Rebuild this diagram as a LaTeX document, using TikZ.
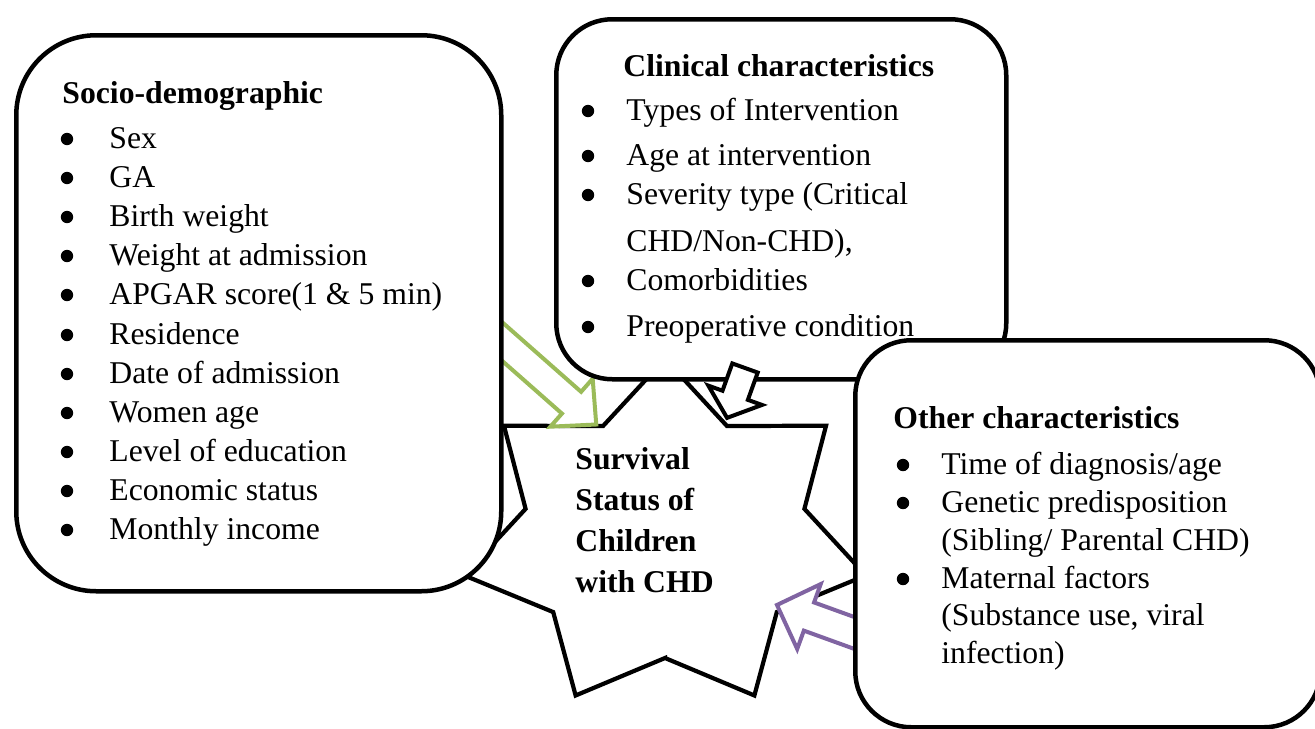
\documentclass[tikz,border=0pt]{standalone}
\usepackage{fontspec}
\setmainfont{Liberation Serif}

\definecolor{olivegreen}{HTML}{9BBB59}
\definecolor{lilac}{HTML}{8064A2}

\tikzset{
  pics/blockarrow/.style n args={4}{code={
    \draw[fill=white] (0,-#2) -- ({#1-#4},-#2) -- ({#1-#4},-#3) -- (#1,0)
      -- ({#1-#4},#3) -- ({#1-#4},#2) -- (0,#2) -- cycle;
  }}
}

\begin{document}
\begin{tikzpicture}[x=0.5pt,y=-0.5pt,
                    font=\fontsize{15.85}{19}\selectfont,
                    box/.style={draw,line width=2.25pt,fill=white,inner sep=0pt,anchor=north west},
                    item/.style={anchor=base west,inner sep=0pt},
                    dot/.style={circle,fill,inner sep=0pt,minimum size=6.2pt},
                    head/.style={item,font=\fontsize{15.85}{19}\selectfont\bfseries},
                    arr/.style={line width=2pt,line join=miter}]

\useasboundingbox (0,0) rectangle (1315,728);

\draw[line width=2.1pt,fill=white] (665,658)
    \foreach \k in {0,...,6} {
        -- ({665+206*sin(\k*51.4286+25.7143)},{536+177*cos(\k*51.4286+25.7143)})
        -- ({665+143*sin((\k+1)*51.4286)},{536+122*cos((\k+1)*51.4286)})
    } -- cycle;
\node[align=left,anchor=base west,inner sep=0pt,
      font=\fontsize{15.85}{20.4}\selectfont\bfseries] (core) at (575,592)
    {Survival\\Status of\\Children\\with CHD};

\pic[arr,color=olivegreen,rotate=-41.4] at (480,322) {blockarrow={155}{14.5}{32}{33}};
\pic[arr,color=lilac,rotate=160.1] at (871,639) {blockarrow={100}{15}{34.5}{34}};

\node[box,rounded corners=40pt,minimum width=242.5pt,minimum height=278pt] (socio) at (14,33) {};
\node[head] (sochead) at (62,103) {Socio-demographic};
\foreach \y/\txt [count=\i] in {148/Sex,187/GA,226/Birth weight,265/Weight at admission,
        304/APGAR score(1 \& 5 min),344/Residence,383/Date of admission,422/Women age,
        461/Level of education,500/Economic status,539/Monthly income} {
    \node[dot] at (67,\y-9) {};
    \node[item] (soc\i) at (109,\y) {\txt};
}

\node[box,rounded corners=28pt,minimum width=225pt,minimum height=180pt] (clinic) at (554,17) {};
\node[head] (clinhead) at (623,76) {Clinical characteristics};
\foreach \y in {120,165,204,290,336}
    \node[dot] at (588,\y-9) {};
\foreach \y/\txt [count=\i] in {120/Types of Intervention,165/Age at intervention,
        204/Severity type (Critical,251/{CHD/Non-CHD),},290/Comorbidities,
        336/Preoperative condition}
    \node[item] (clin\i) at (626,\y) {\txt};

\node[box,rounded corners=28pt,minimum width=232.5pt,minimum height=193.5pt] (other) at (853,338) {};
\node[head] (othhead) at (893,428) {Other characteristics};
\foreach \y in {474,512,588}
    \node[dot] at (903,\y-9) {};
\foreach \y/\txt [count=\i] in {474/{Time of diagnosis/age},512/Genetic predisposition,
        550/{(Sibling/ Parental CHD)},588/Maternal factors,
        625/{(Substance use, viral},663/infection)}
    \node[item] (oth\i) at (941,\y) {\txt};

\pic[arr,color=black,rotate=-109.8] at (745,368) {blockarrow={53}{13.5}{28.5}{24}};

\end{tikzpicture}
\end{document}
